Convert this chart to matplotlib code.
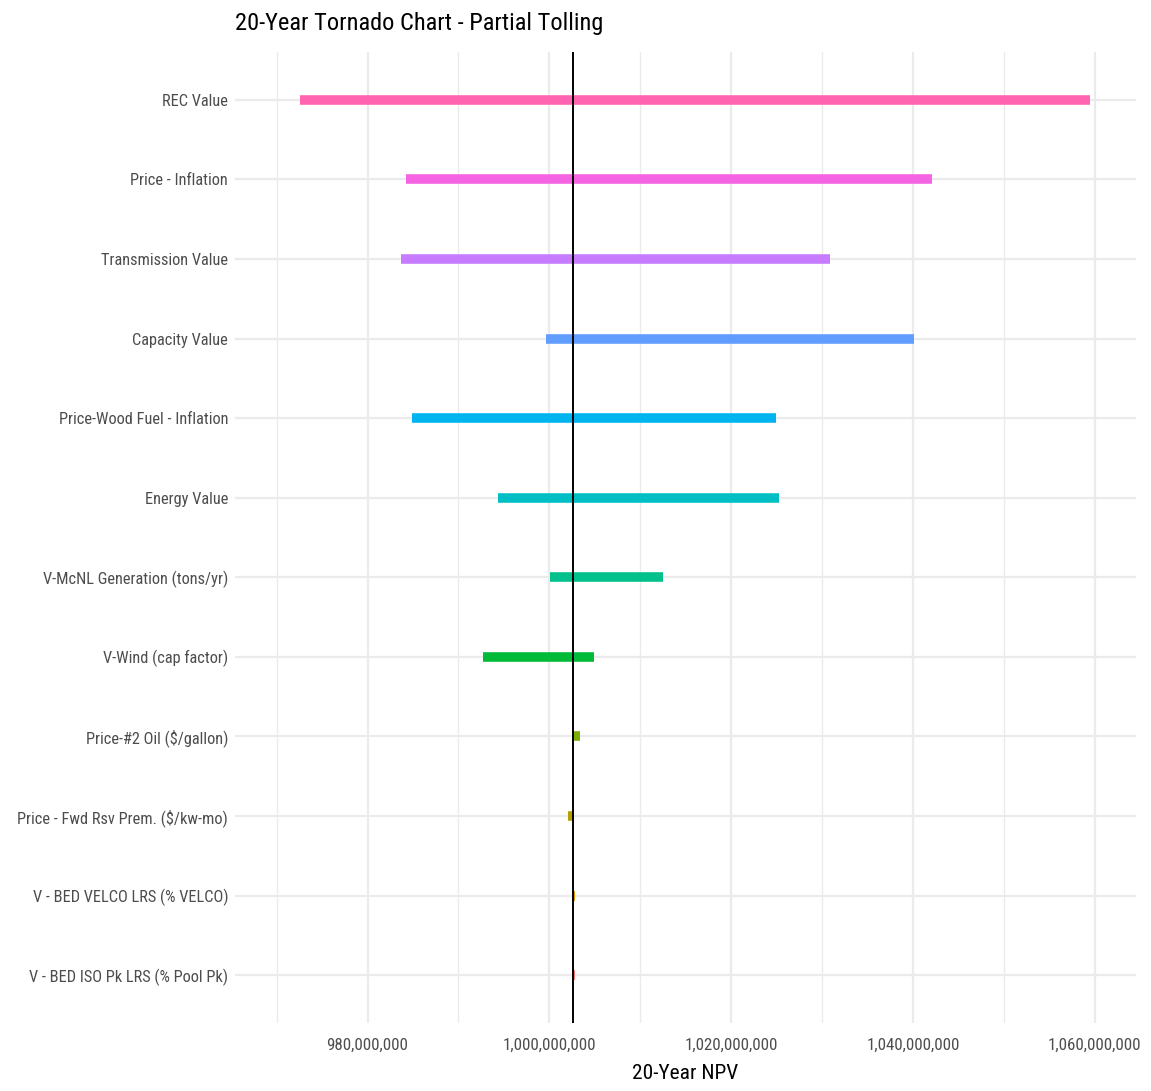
import matplotlib
matplotlib.use("Agg")
import matplotlib.pyplot as plt
from matplotlib import font_manager
from matplotlib.ticker import FuncFormatter, MultipleLocator, FixedLocator

# Sensitivity inputs, listed from top to bottom of the chart
categories = [
    "REC Value",
    "Price - Inflation",
    "Transmission Value",
    "Capacity Value",
    "Price-Wood Fuel - Inflation",
    "Energy Value",
    "V-McNL Generation (tons/yr)",
    "V-Wind (cap factor)",
    "Price-#2 Oil ($/gallon)",
    "Price - Fwd Rsv Prem. ($/kw-mo)",
    "V - BED VELCO LRS (% VELCO)",
    "V - BED ISO Pk LRS (% Pool Pk)",
]
npv_low = [972.54e6, 984.2e6, 983.7e6, 999.6e6, 984.9e6, 994.3e6,
           1000.1e6, 992.7e6, 1002.6e6, 1002.1e6, 1002.45e6, 1002.53e6]
npv_high = [1059.5e6, 1042.1e6, 1030.9e6, 1040.1e6, 1024.9e6, 1025.3e6,
            1012.54e6, 1004.9e6, 1003.4e6, 1002.64e6, 1002.82e6, 1002.83e6]
base_npv = 1002.64e6

colors = ["#FF64B0", "#F564E3", "#C77CFF", "#619CFF", "#00B4F0", "#00BFC4",
          "#00C08B", "#00BA38", "#7CAE00", "#B79F00", "#DE8C00", "#F8766D"]

# Prefer a narrow sans face when one is installed
fonts = font_manager.fontManager.ttflist
names = {f.name for f in fonts}
family, stretch = "Liberation Sans", "normal"
for cand in ["Liberation Sans Narrow", "Roboto Condensed", "Open Sans Condensed"]:
    if cand in names:
        family = cand
        break
else:
    if any(f.name == "DejaVu Sans" and f.stretch in ("condensed", "semi-condensed")
           for f in fonts):
        family, stretch = "DejaVu Sans", "condensed"
plt.rcParams["font.family"] = [family, "DejaVu Sans"]
plt.rcParams["font.stretch"] = stretch

fig = plt.figure(figsize=(11.51, 10.91), dpi=100)
ax = fig.add_axes([235 / 1151, 1 - 1023 / 1091, (1136 - 235) / 1151, (1023 - 52) / 1091])

n = len(categories)
ypos = [n - 1 - i for i in range(n)]

ax.hlines(ypos, npv_low, npv_high, colors=colors, linewidth=6.9, capstyle="butt", zorder=3)
ax.axvline(base_npv, color="black", linewidth=1.4, zorder=4)

ax.set_xlim(965.42e6, 1064.54e6)
ax.set_ylim(-0.6, n - 1 + 0.6)

ax.xaxis.set_major_locator(MultipleLocator(20e6))
ax.xaxis.set_minor_locator(FixedLocator([970e6, 990e6, 1010e6, 1030e6, 1050e6]))
ax.xaxis.set_major_formatter(FuncFormatter(lambda v, p: f"{v:,.0f}"))
ax.set_yticks(ypos)
ax.set_yticklabels(categories)

ax.grid(True, which="major", color="#EBEBEB", linewidth=1.6, zorder=0)
ax.grid(True, which="minor", axis="x", color="#EBEBEB", linewidth=1.0, zorder=0)
ax.set_axisbelow(True)
for s in ax.spines.values():
    s.set_visible(False)
ax.tick_params(axis="both", which="both", length=0, labelsize=14, labelcolor="#4D4D4D")
ax.tick_params(axis="y", pad=5)
ax.tick_params(axis="x", pad=11)

xlab = ax.set_xlabel("20-Year NPV", fontsize=17, color="black", labelpad=8)
title = ax.set_title("20-Year Tornado Chart - Partial Tolling", fontsize=20, loc="left",
                     color="black", pad=16)

# Size each text group so it spans the intended width
renderer = fig.canvas.get_renderer()
fig.canvas.draw()


def fit(texts, target_px, max_size):
    widest = max(t.get_window_extent(renderer).width for t in texts)
    size = texts[0].get_fontsize() * target_px / widest
    size = min(size, max_size)
    for t in texts:
        t.set_fontsize(size)
    return size


ysize = fit(ax.get_yticklabels(), 212, 15)
ax.tick_params(axis="y", labelsize=ysize)
xsize = fit([t for t in ax.get_xticklabels() if t.get_text()], 94, 14)
ax.tick_params(axis="x", labelsize=xsize)
fit([xlab], 106, 18)
fit([title], 367, 22)

fig.savefig("out.png", dpi=100, facecolor="white")
